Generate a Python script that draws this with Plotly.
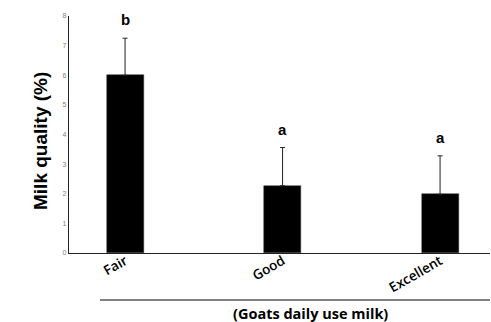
import plotly.graph_objects as go

categories = ["Fair", "Good", "Excellent"]
values = [6.0, 2.27, 1.98]
errors = [1.25, 1.29, 1.30]
letters = ["b", "a", "a"]
y_ticks = [0, 1, 2, 3, 4, 5, 6, 7, 8]

PH = 237.0  # plot height in px
PW = 421.0

fig = go.Figure()
fig.add_trace(go.Bar(
    x=categories, y=values,
    marker=dict(color="black", line=dict(color="#333333", width=0.5)),
    width=0.235,
    error_y=dict(type="data", array=errors, arrayminus=[0, 0, 0], symmetric=False,
                 color="#222222", thickness=1, width=2.5),
))

for c, v, e, l in zip(categories, values, errors, letters):
    fig.add_annotation(x=c, y=v + e, text="<b>%s</b>" % l, showarrow=False,
                       yanchor="bottom", yshift=8,
                       font=dict(family="Liberation Sans, Arial", size=15, color="black"))

fig.add_shape(type="line", xref="paper", yref="paper",
              x0=(100 - 69) / PW, x1=1.0, y0=(253 - 300) / PH, y1=(253 - 300) / PH,
              line=dict(color="black", width=1))
fig.add_annotation(xref="paper", yref="paper", x=(310 - 69) / PW, y=(253 - 313) / PH,
                   text="<b>(Goats daily use milk)</b>", showarrow=False,
                   yanchor="middle",
                   font=dict(family="Open Sans, Arial", size=14.5, color="black"))
fig.add_annotation(xref="paper", yref="paper", x=(40 - 69) / PW, y=(253 - 141) / PH,
                   text="<b>Milk quality (%)</b>", showarrow=False, textangle=-90,
                   xanchor="center", yanchor="middle",
                   font=dict(family="Liberation Sans Narrow, Arial Narrow, Liberation Sans",
                             size=19, color="black"))

fig.update_layout(
    width=491, height=322,
    margin=dict(l=69, r=1, t=16, b=69, autoexpand=False),
    plot_bgcolor="white", paper_bgcolor="white",
    showlegend=False,
    bargap=0,
    xaxis=dict(range=[-0.356, 2.317], showline=True, linecolor="#222222", linewidth=1.2,
               ticks="", tickangle=-30, automargin=False, ticklabelstandoff=-6,
               tickfont=dict(family="Open Sans, Arial", size=13.5, color="black", weight=600),
               showgrid=False, zeroline=False),
    yaxis=dict(range=[0, 8], tickvals=y_ticks, showline=True, linecolor="#222222",
               linewidth=1.2, ticks="", showgrid=False, zeroline=False, automargin=False,
               tickfont=dict(family="Liberation Sans, Arial", size=7, color="#808080")),
)

fig.write_html("out.html", config={"displayModeBar": False},
               post_script="document.body.style.margin='0';document.body.style.overflow='hidden';")
